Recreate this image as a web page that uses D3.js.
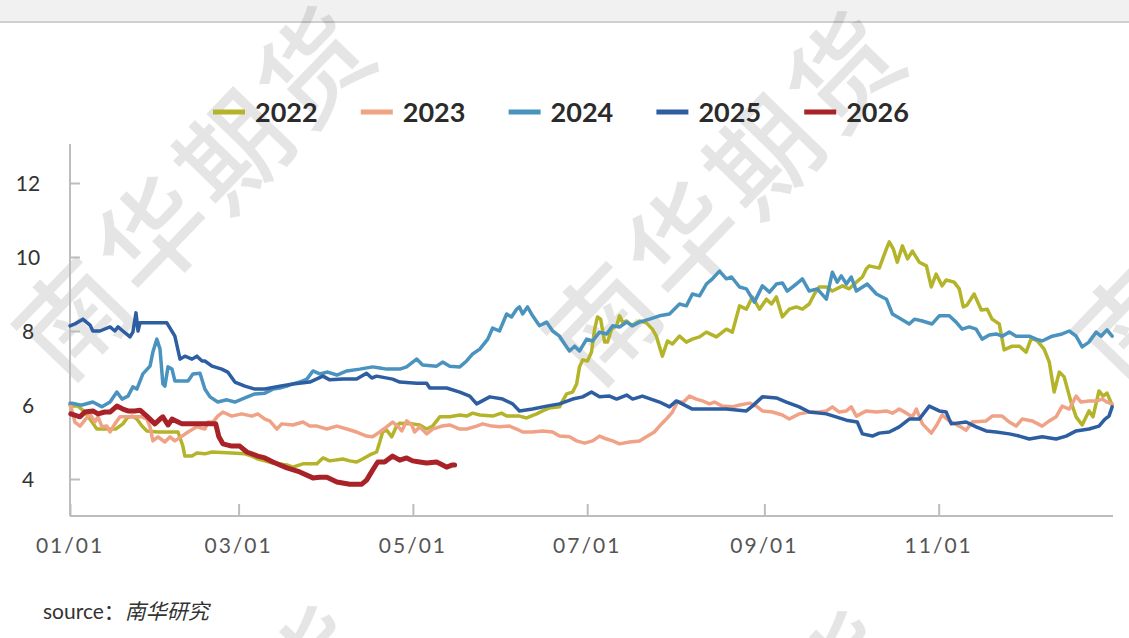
<!DOCTYPE html>
<html>
<head>
<meta charset="utf-8">
<script src="https://cdn.jsdelivr.net/npm/d3@7"></script>
<style>
  body { margin: 0; background: #fff; }
  svg { display: block; }
</style>
</head>
<body>
<div id="chart"></div>
<script>
// series: [day of year, value]
var s2022 = [[0,6.00],[0.7,5.97],[2.8,5.97],[5.2,5.81],[7.7,5.54],[9.4,5.35],[13.3,5.35],[16,5.35],[18.5,5.49],[20,5.65],[21.7,5.70],[23.4,5.62],[25.2,5.43],[26.9,5.30],[30.8,5.27],[37.8,5.27],[39.5,4.89],[40.2,4.62],[42.7,4.62],[44.4,4.70],[47.2,4.68],[49.7,4.73],[56.6,4.70],[61.2,4.68],[63.6,4.62],[65.7,4.54],[68.2,4.49],[71,4.43],[75.9,4.38],[78,4.32],[81.5,4.41],[86.4,4.41],[88.5,4.57],[90.9,4.49],[95.5,4.54],[97.9,4.49],[100.3,4.46],[102.4,4.54],[104.9,4.65],[107.3,4.73],[108.4,5.00],[109.4,5.27],[110.8,5.32],[112.6,5.14],[114.3,5.43],[115.4,5.51],[119.9,5.49],[122.4,5.46],[124.8,5.35],[126.9,5.43],[129.4,5.68],[132.9,5.68],[136.4,5.73],[138.8,5.70],[140.9,5.78],[143.4,5.73],[147.9,5.70],[151,5.78],[152.8,5.70],[157.3,5.70],[159.8,5.65],[163.3,5.76],[165.4,5.84],[167.8,5.92],[171.3,5.95],[172.4,6.11],[173.8,6.30],[175.9,6.35],[177.3,6.57],[178.3,7.03],[179.4,7.22],[181.1,7.19],[182.5,7.43],[183.6,8.05],[184.6,8.38],[185.7,8.32],[187.1,7.70],[188.1,7.70],[189.5,8.05],[191.3,8.14],[192.3,8.41],[193.4,8.24],[194.8,8.27],[196.5,8.14],[199.3,8.27],[201.7,8.22],[203.8,8.05],[205.2,7.86],[207.3,7.32],[209.1,7.73],[210.8,7.65],[213.3,7.86],[215.7,7.70],[217.8,7.78],[220.3,7.84],[222.7,7.97],[226.2,7.84],[229.7,8.05],[231.8,7.97],[234.3,8.68],[236.7,8.59],[238.8,8.92],[241.3,8.59],[243.7,8.86],[245.5,8.73],[247.2,8.92],[249.3,8.38],[251.7,8.59],[254.2,8.65],[256.3,8.59],[258.7,8.73],[260.5,9.00],[262.2,9.19],[264.7,9.19],[266.8,9.08],[270.3,9.22],[272.7,9.14],[275.2,9.32],[277.3,9.46],[278.7,9.68],[279.7,9.76],[283.2,9.70],[285.7,10.22],[286.7,10.41],[288.1,10.22],[289.5,9.86],[291.3,10.30],[293.1,9.95],[294.8,10.16],[297.2,9.86],[299.7,9.76],[301.4,9.19],[303.1,9.54],[305.2,9.22],[306.6,9.38],[309.4,9.32],[311.2,9.14],[312.6,8.65],[313.9,8.70],[316.4,9.00],[318.9,8.57],[321,8.59],[322.7,8.32],[325.2,8.19],[326.9,7.49],[329.7,7.59],[332.2,7.59],[334.6,7.43],[336.4,7.81],[338.5,7.73],[340.9,7.51],[342.7,7.16],[344.4,6.35],[346.2,6.89],[347.9,6.76],[350.3,6.08],[352.1,5.68],[354.2,5.46],[356.6,5.84],[358,5.68],[360.1,6.38],[361.5,6.24],[362.9,6.32],[364.7,6.00]];

var s2023 = [[0,6.00],[0.3,5.97],[1.7,5.54],[3.5,5.43],[5.2,5.59],[7,5.76],[8.7,5.54],[9.8,5.68],[11.2,5.41],[12.9,5.43],[14,5.27],[15.7,5.49],[17.5,5.68],[19.9,5.68],[22.7,5.68],[25.2,5.68],[26.9,5.62],[28,5.41],[29,5.03],[30.8,5.14],[33.2,5.00],[35,5.14],[36.7,5.03],[39.2,5.16],[41.3,5.27],[44.4,5.41],[47.2,5.35],[48.3,5.54],[50,5.54],[51.7,5.70],[53.5,5.81],[56.6,5.70],[60.1,5.76],[63.6,5.70],[65.7,5.76],[68.2,5.62],[69.9,5.57],[72.4,5.35],[74.1,5.49],[78,5.46],[81.5,5.54],[83.9,5.43],[86.4,5.43],[89.9,5.35],[93.4,5.43],[96.9,5.35],[100.3,5.27],[103.8,5.16],[105.9,5.14],[108.4,5.27],[110.8,5.41],[112.9,5.54],[114.7,5.43],[116.1,5.30],[117.8,5.57],[119.6,5.46],[120.6,5.27],[122.4,5.41],[124.8,5.22],[126.9,5.35],[130.1,5.43],[132.9,5.46],[136.4,5.35],[138.8,5.35],[142.3,5.43],[144.4,5.49],[147.6,5.43],[150.3,5.41],[153.8,5.43],[156.3,5.35],[158.4,5.27],[161.9,5.27],[165.4,5.30],[168.9,5.27],[171.3,5.16],[174.8,5.14],[177.3,5.03],[180.1,4.97],[182.9,5.03],[185.3,5.16],[187.8,5.08],[189.9,5.03],[192.3,4.95],[195.8,5.00],[199.3,5.03],[201.7,5.14],[204.5,5.27],[206.3,5.43],[208.7,5.62],[210.8,5.81],[212.6,6.08],[214.7,6.08],[216.8,6.24],[219.2,6.16],[221.3,6.11],[223.8,6.03],[225.5,6.08],[228.3,5.97],[231.8,5.95],[234.3,6.00],[237.8,6.05],[240.2,5.97],[242.3,5.84],[245.8,5.81],[249.3,5.73],[251.7,5.62],[255.2,5.76],[258.7,5.81],[262.2,5.81],[264.7,5.84],[266.8,5.95],[269.2,5.81],[271.7,5.84],[273.4,5.95],[275.2,5.70],[278.7,5.84],[282.2,5.81],[285.7,5.84],[287.8,5.78],[290.2,5.89],[292.7,5.78],[294.8,5.68],[296.2,5.89],[298.3,5.49],[301.4,5.24],[303.1,5.43],[305.2,5.73],[307.7,5.57],[311.2,5.43],[313.6,5.32],[315.7,5.54],[320.6,5.57],[322.7,5.70],[326.2,5.70],[328.7,5.54],[331.1,5.43],[333.2,5.62],[336.7,5.57],[340.2,5.43],[342.7,5.57],[345.1,5.68],[347.2,5.97],[349.7,5.89],[352.1,6.24],[353.8,6.08],[356.6,6.11],[359.4,6.11],[361.2,6.16],[362.9,6.08],[364.7,6.03]];

var s2024 = [[0,6.05],[0.7,6.05],[3.5,6.00],[4.2,6.00],[8,6.08],[11.2,5.95],[14,6.08],[16.4,6.35],[18.2,6.16],[20.3,6.24],[22,6.49],[23.4,6.43],[25.5,6.84],[28,7.05],[29,7.43],[30.4,7.78],[31.5,7.51],[32.5,6.57],[33.2,6.51],[34.3,7.03],[35.7,6.97],[36.7,6.65],[41.3,6.65],[43,6.84],[45.5,6.86],[47.2,6.43],[49,6.22],[51.7,6.08],[54.9,6.14],[57.7,6.08],[61.2,6.19],[64.7,6.30],[68.2,6.32],[71,6.43],[73.4,6.46],[75.9,6.51],[78,6.57],[80.4,6.62],[82.9,6.70],[85,6.92],[87.4,6.84],[90.2,6.89],[93.4,6.81],[96.9,6.92],[101.4,6.97],[105.9,7.03],[108.4,7.00],[110.8,6.97],[115.4,6.97],[117.8,7.03],[121.3,7.24],[123.4,7.08],[128.3,7.05],[130.4,7.16],[132.9,7.05],[136.4,7.03],[138.8,7.19],[140.9,7.38],[143.4,7.51],[146.2,7.78],[147.9,8.08],[150.3,8.00],[152.8,8.46],[154.5,8.38],[156.3,8.59],[157.3,8.65],[158.4,8.46],[160.1,8.65],[161.9,8.41],[164.3,8.14],[166.8,8.24],[168.9,8.00],[171.3,7.86],[173.8,7.57],[174.8,7.46],[176.6,7.59],[178.3,7.46],[180.8,7.78],[182.9,7.73],[185.3,7.97],[187.8,7.92],[189.9,8.14],[192.3,8.11],[194.8,8.24],[196.9,8.14],[199.3,8.24],[202.8,8.32],[206.3,8.41],[209.8,8.46],[213.3,8.73],[215.7,8.68],[217.8,9.00],[220.3,8.95],[222.7,9.27],[224.8,9.41],[227.3,9.62],[229.7,9.41],[231.5,9.46],[234.3,9.19],[236.7,9.14],[239.5,8.78],[242.3,9.22],[244.8,9.05],[247.2,9.27],[249.3,9.30],[251,9.08],[254.2,9.27],[256.3,9.41],[258.7,9.08],[261.5,9.14],[264.7,8.86],[266.8,9.59],[268.5,9.32],[269.9,9.49],[271.7,9.27],[273.4,9.46],[275.2,9.08],[279,9.27],[282.2,9.00],[285.7,8.86],[287.8,8.46],[290.2,8.35],[293.7,8.19],[295.5,8.32],[298.3,8.27],[301.7,8.19],[304.2,8.41],[307.7,8.41],[310.1,8.24],[312.2,8.05],[314.7,8.11],[317.1,8.05],[319.2,7.78],[321.7,7.89],[324.1,7.92],[326.2,7.86],[328.7,7.97],[331.1,7.86],[333.2,7.86],[335.7,7.86],[338.1,7.78],[340.2,7.73],[343.7,7.86],[347.2,7.92],[349.7,8.00],[352.1,7.86],[354.2,7.57],[356.6,7.70],[359.1,7.97],[360.8,7.86],[362.9,8.03],[364.7,7.86]];

var s2025 = [[0,8.14],[1.7,8.19],[4.5,8.32],[7,8.16],[8,8.00],[10.5,8.00],[14,8.11],[15.7,8.00],[16.8,8.11],[18.5,8.00],[21,7.84],[22,7.97],[23.1,8.49],[23.8,8.00],[24.5,8.22],[33.9,8.22],[36.7,7.86],[38.5,7.24],[40.2,7.32],[42.7,7.24],[44.4,7.32],[46.2,7.19],[47.2,7.19],[49.7,7.05],[53.1,6.97],[55.2,6.89],[57.7,6.62],[61.2,6.51],[64.7,6.43],[68.2,6.43],[73.4,6.51],[78,6.57],[83.9,6.62],[88.5,6.78],[90.9,6.68],[95.5,6.70],[100.3,6.70],[103.8,6.86],[105.6,6.73],[107.3,6.78],[112.9,6.70],[115.4,6.62],[121.3,6.59],[124.8,6.59],[125.9,6.46],[131.8,6.46],[136.4,6.35],[139.9,6.24],[142.3,6.03],[146.9,6.22],[151.4,6.16],[154.9,6.03],[157.3,5.84],[161.9,5.89],[166.8,5.97],[171.3,6.03],[175.9,6.16],[179.4,6.22],[182.5,6.35],[185.3,6.22],[188.8,6.24],[191.3,6.16],[194.8,6.27],[196.9,6.16],[200.3,6.24],[206.3,6.08],[209.8,5.95],[212.2,6.11],[217.8,5.89],[223.8,5.89],[229.7,5.89],[236.7,5.84],[238.8,5.97],[242.3,6.22],[247.2,6.19],[250.7,6.08],[255.2,5.95],[258.7,5.81],[264.7,5.76],[271.7,5.59],[275.5,5.54],[277.3,5.22],[280.8,5.16],[283.2,5.24],[286.7,5.27],[290.2,5.41],[293.7,5.62],[297.2,5.62],[300.7,5.97],[304.2,5.84],[306.6,5.81],[308.4,5.49],[313.6,5.54],[317.1,5.41],[320.6,5.30],[324.1,5.27],[328.7,5.22],[332.2,5.16],[335.7,5.08],[340.2,5.14],[345.1,5.08],[348.6,5.16],[352.1,5.30],[356.6,5.35],[360.1,5.43],[362.2,5.62],[363.6,5.70],[364.7,5.95]];

var s2026 = [[0.3,5.76],[3.5,5.68],[5.2,5.81],[8,5.84],[9.8,5.76],[12.2,5.81],[14,5.81],[16.4,5.97],[18.5,5.89],[20.3,5.84],[22.7,5.84],[24.5,5.86],[26.9,5.70],[29.7,5.49],[31.5,5.62],[32.5,5.68],[34.3,5.46],[35.7,5.62],[37.1,5.57],[39.2,5.49],[43,5.49],[47.2,5.49],[51,5.49],[52.1,5.14],[53.5,4.95],[56.6,4.89],[59.4,4.89],[61.9,4.73],[65.7,4.62],[68.2,4.57],[71,4.46],[75.9,4.30],[80.4,4.19],[85,4.03],[87.4,4.05],[89.9,4.05],[93.4,3.92],[97.9,3.86],[102.1,3.86],[103.8,3.97],[105.9,4.24],[107.7,4.46],[110.1,4.46],[112.9,4.62],[115.4,4.51],[117.8,4.57],[119.9,4.49],[122.4,4.46],[124.8,4.43],[128.3,4.46],[130.4,4.38],[131.8,4.32],[133.9,4.38],[134.6,4.38]];

var years = ["2022", "2023", "2024", "2025", "2026"];
var seriesList = [s2022, s2023, s2024, s2025, s2026];
var colors = ["#b4b42a", "#f0a286", "#4a93bf", "#2d5ea2", "#a82228"];
var lineWidths = [3.5, 3.5, 3.5, 3.5, 5];

var xTickDays = [0, 59, 120, 181, 243, 304];
var xTickLabels = ["01/01", "03/01", "05/01", "07/01", "09/01", "11/01"];
var yTicks = [4, 6, 8, 10, 12];

var W = 1129, H = 638;
var plotLeft = 70, plotRight = 1113, plotTop = 146, plotBottom = 516;

var svg = d3.select("#chart")
    .append("svg")
    .attr("width", W)
    .attr("height", H);

// grey strip of the cut-off header
svg.append("rect").attr("x", 0).attr("y", 0).attr("width", W).attr("height", 21).attr("fill", "#f1f1f1");
svg.append("rect").attr("x", 0).attr("y", 21).attr("width", W).attr("height", 2).attr("fill", "#cfcfcf");

// watermark, repeated and cut by the page edges like in the source
var marks = [[198, 192], [728, 197], [1258, 197], [198, 792], [728, 797]];
svg.append("g")
    .selectAll("text")
    .data(marks)
    .enter()
    .append("text")
    .attr("transform", function (d) { return "translate(" + d[0] + "," + d[1] + ") rotate(-46)"; })
    .attr("text-anchor", "middle")
    .attr("dy", "0.35em")
    .attr("font-family", "Noto Sans CJK SC")
    .attr("font-weight", 500)
    .attr("font-size", 108)
    .attr("letter-spacing", 8)
    .attr("fill", "#000")
    .attr("fill-opacity", 0.1)
    .text("南华期货");

var x = d3.scaleLinear().domain([0, 365]).range([plotLeft, plotRight]);
var y = d3.scaleLinear().domain([3, 13]).range([plotBottom, plotTop]);

// axes
var yAxis = svg.append("g")
    .attr("transform", "translate(" + plotLeft + ",0)")
    .call(d3.axisRight(y).tickValues(yTicks).tickSize(10).tickFormat(""));
var xAxis = svg.append("g")
    .attr("transform", "translate(0," + plotBottom + ")")
    .call(d3.axisTop(x).tickValues(xTickDays).tickSize(12).tickFormat(""));

[yAxis, xAxis].forEach(function (a) {
    a.select(".domain").attr("stroke", "#bdbdbd").attr("stroke-width", 2);
    a.selectAll(".tick line").attr("stroke", "#bdbdbd").attr("stroke-width", 2);
});
xAxis.select(".domain").attr("d", "M" + plotLeft + ",0H" + plotRight);
yAxis.select(".domain").attr("d", "M0," + (plotTop - 2) + "V" + plotBottom);

svg.append("g")
    .selectAll("text")
    .data(yTicks)
    .enter()
    .append("text")
    .attr("x", 28)
    .attr("y", function (d) { return y(d); })
    .attr("dy", "0.36em")
    .attr("text-anchor", "middle")
    .attr("font-family", "Lato")
    .attr("font-size", 21)
    .attr("fill", "#333")
    .text(function (d) { return d; });

svg.append("g")
    .selectAll("text")
    .data(xTickDays)
    .enter()
    .append("text")
    .attr("x", function (d) { return x(d); })
    .attr("y", 553)
    .attr("text-anchor", "middle")
    .attr("font-family", "Lato")
    .attr("font-size", 21)
    .attr("letter-spacing", 2)
    .attr("fill", "#555")
    .text(function (d, i) { return xTickLabels[i]; });

// lines
var line = d3.line()
    .x(function (d) { return x(d[0]); })
    .y(function (d) { return y(d[1]); });

svg.append("g")
    .selectAll("path")
    .data(seriesList)
    .enter()
    .append("path")
    .attr("fill", "none")
    .attr("stroke", function (d, i) { return colors[i]; })
    .attr("stroke-width", function (d, i) { return lineWidths[i]; })
    .attr("stroke-linejoin", "round")
    .attr("stroke-linecap", "round")
    .attr("d", line);

// legend
var legend = svg.append("g")
    .selectAll("g")
    .data(years)
    .enter()
    .append("g")
    .attr("transform", function (d, i) { return "translate(" + (213 + i * 147.8) + ",112)"; });
legend.append("rect")
    .attr("x", 0).attr("y", -2.5)
    .attr("width", 32).attr("height", 5)
    .attr("fill", function (d, i) { return colors[i]; });
legend.append("text")
    .attr("x", 42)
    .attr("dy", "0.36em")
    .attr("font-family", "Lato")
    .attr("font-weight", 700)
    .attr("font-size", 27)
    .attr("fill", "#2b2b2b")
    .text(function (d) { return d; });

// source note
var src = svg.append("text")
    .attr("x", 43)
    .attr("y", 619)
    .attr("font-family", "Lato, 'Noto Sans CJK SC'")
    .attr("font-size", 21)
    .attr("fill", "#333");
src.append("tspan").text("source：");
src.append("tspan").attr("font-family", "Noto Sans CJK SC").attr("font-style", "italic").text("南华研究");
</script>
</body>
</html>
